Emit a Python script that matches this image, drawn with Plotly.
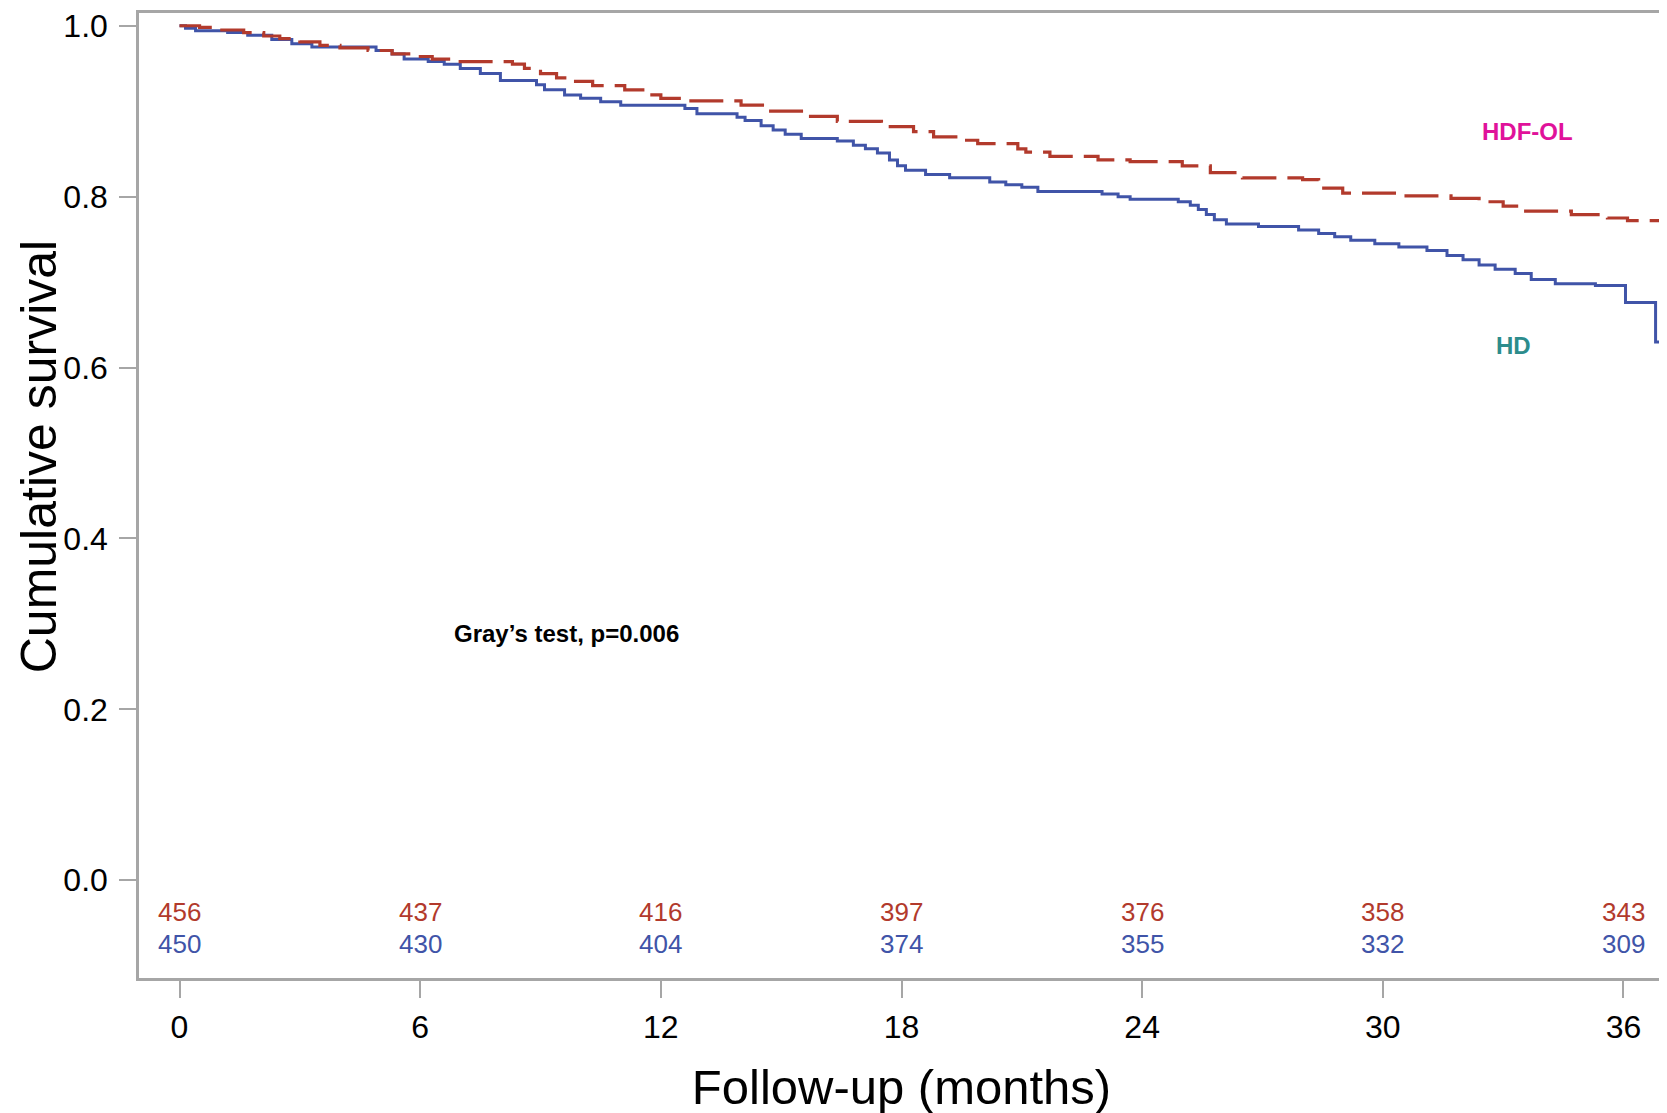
import plotly.graph_objects as go

# ---- data ----
hd_t = [0, 0.15, 0.4, 1.2, 1.7, 2.3, 2.8, 3.3, 4.9, 5.3, 5.6, 6.2, 6.6, 7.0, 7.5, 8.0, 8.9, 9.1, 9.6,
        10.0, 10.5, 11.0, 12.6, 12.9, 13.9, 14.1, 14.5, 14.8, 15.1, 15.5, 16.4, 16.8, 17.1, 17.4, 17.7,
        17.9, 18.1, 18.6, 19.2, 20.2, 20.6, 21.0, 21.4, 23.0, 23.4, 23.7, 24.9, 25.2, 25.4, 25.6, 25.8,
        26.1, 26.9, 27.9, 28.4, 28.8, 29.2, 29.8, 30.4, 31.1, 31.6, 32.0, 32.4, 32.8, 33.3, 33.7, 34.3,
        35.3, 36.05, 36.8, 37.0]
hd_s = [1.0, 0.997, 0.994, 0.992, 0.989, 0.984, 0.979, 0.975, 0.971, 0.967, 0.961, 0.958, 0.955, 0.950,
        0.944, 0.936, 0.931, 0.925, 0.919, 0.915, 0.911, 0.907, 0.903, 0.897, 0.893, 0.889, 0.883, 0.878,
        0.873, 0.868, 0.865, 0.860, 0.856, 0.851, 0.843, 0.836, 0.831, 0.826, 0.822, 0.817, 0.814, 0.811,
        0.806, 0.803, 0.800, 0.797, 0.794, 0.790, 0.785, 0.779, 0.773, 0.768, 0.765, 0.761, 0.757, 0.753,
        0.749, 0.745, 0.741, 0.737, 0.731, 0.726, 0.720, 0.715, 0.710, 0.703, 0.698, 0.696, 0.676, 0.630,
        0.630]

hdf_t = [0, 0.5, 0.9, 1.6, 2.1, 2.5, 3.0, 3.5, 4.0, 4.7, 5.3, 5.8, 6.3, 6.9, 8.3, 8.6, 9.0, 9.4, 9.7,
         10.3, 11.1, 11.6, 12.0, 12.5, 14.0, 14.6, 15.6, 16.4, 17.5, 18.3, 18.8, 19.4, 19.9, 20.9, 21.1,
         21.7, 22.9, 23.7, 25.0, 25.7, 26.5, 28.0, 28.4, 29.0, 30.4, 31.7, 32.4, 33.0, 33.5, 34.7, 35.6,
         36.1, 37.0]
hdf_s = [1.0, 0.998, 0.995, 0.992, 0.988, 0.985, 0.981, 0.977, 0.974, 0.971, 0.967, 0.964, 0.961, 0.958,
         0.955, 0.950, 0.944, 0.939, 0.935, 0.930, 0.925, 0.919, 0.915, 0.912, 0.907, 0.900, 0.894, 0.888,
         0.882, 0.876, 0.870, 0.866, 0.862, 0.856, 0.852, 0.847, 0.843, 0.841, 0.836, 0.828, 0.822, 0.820,
         0.810, 0.804, 0.801, 0.798, 0.794, 0.789, 0.783, 0.779, 0.775, 0.772, 0.772]

risk_times = [0, 6, 12, 18, 24, 30, 36]
hdf_risk = [456, 437, 416, 397, 376, 358, 343]
hd_risk = [450, 430, 404, 374, 355, 332, 309]

x_ticks = [0, 6, 12, 18, 24, 30, 36]
y_ticks = [0.0, 0.2, 0.4, 0.6, 0.8, 1.0]
y_tick_text = ["0.0", "0.2", "0.4", "0.6", "0.8", "1.0"]

RED = "#B23A2C"
BLUE = "#4054A8"
GRAY = "#A6A6A6"
FONT = "Liberation Sans, Arial, sans-serif"

fig = go.Figure()
fig.add_trace(go.Scatter(x=hd_t, y=hd_s, mode="lines", line=dict(color=BLUE, width=3, shape="hv"),
                         name="HD", showlegend=False))
fig.add_trace(go.Scatter(x=hdf_t, y=hdf_s, mode="lines",
                         line=dict(color=RED, width=3.2, shape="hv", dash="34px,11px"),
                         name="HDF-OL", showlegend=False))

annotations = []
for t, n in zip(risk_times, hdf_risk):
    annotations.append(dict(x=t, y=-0.0373, text=str(n), showarrow=False, xref="x", yref="y",
                            font=dict(family=FONT, size=26, color=RED)))
for t, n in zip(risk_times, hd_risk):
    annotations.append(dict(x=t, y=-0.0746, text=str(n), showarrow=False, xref="x", yref="y",
                            font=dict(family=FONT, size=26, color=BLUE)))
annotations.append(dict(x=9.66, y=0.2886, text="<b>Gray’s test, p=0.006</b>", showarrow=False,
                        font=dict(family=FONT, size=24, color="black")))
annotations.append(dict(x=33.6, y=0.876, text="<b>HDF-OL</b>", showarrow=False,
                        font=dict(family=FONT, size=24, color="#E0129A")))
annotations.append(dict(x=33.26, y=0.626, text="<b>HD</b>", showarrow=False,
                        font=dict(family=FONT, size=24, color="#2C8C8C")))
# y-axis title
annotations.append(dict(x=0, xref="paper", y=0.495, yref="y", xshift=-100, textangle=-90,
                        text="Cumulative survival", showarrow=False, xanchor="center", yanchor="middle",
                        font=dict(family=FONT, size=50, color="black")))

fig.update_layout(
    width=1667, height=1113,
    margin=dict(l=131, r=11, t=5, b=143),
    paper_bgcolor="white", plot_bgcolor="white",
    annotations=annotations,
    font=dict(family=FONT, color="black"),
    xaxis=dict(range=[-1.01, 37.01], tickvals=x_ticks, ticks="outside", ticklen=17, tickwidth=2,
               tickcolor=GRAY, showline=True, linecolor=GRAY, linewidth=2.5, mirror=True,
               showgrid=False, zeroline=False, tickfont=dict(family=FONT, size=32, color="black"),
               ticklabelstandoff=2, automargin=False,
               title=dict(text="Follow-up (months)", font=dict(family=FONT, size=49, color="black"),
                          standoff=26)),
    yaxis=dict(range=[-0.1144, 1.0149], tickvals=y_ticks, ticktext=y_tick_text, ticks="outside",
               ticklen=17, tickwidth=2, tickcolor=GRAY, showline=True, linecolor=GRAY, linewidth=2.5,
               mirror=True, showgrid=False, zeroline=False, automargin=False,
               ticklabeloverflow="allow",
               tickfont=dict(family=FONT, size=32, color="black"), ticklabelstandoff=5),
)

fig.write_html("out.html")
